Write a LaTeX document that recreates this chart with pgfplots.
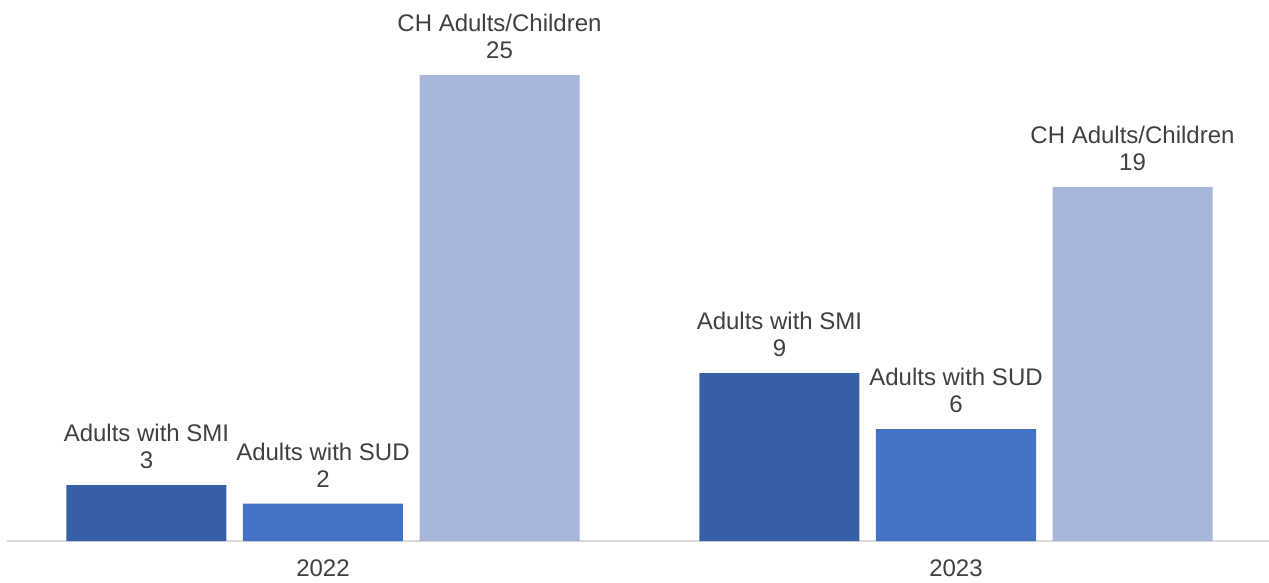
\documentclass[border=0pt]{standalone}
\usepackage{pgfplots}
\pgfplotsset{compat=1.18}
\usepackage{fontspec}
\setmainfont{Liberation Sans}
\definecolor{smi}{HTML}{365FA5}
\definecolor{sud}{HTML}{4472C4}
\definecolor{chc}{HTML}{A8B6DB}
\definecolor{txt}{HTML}{404040}
\definecolor{axl}{HTML}{D9D9D9}
\begin{document}
\begin{tikzpicture}
\path[use as bounding box] (0,0) rectangle (951.75pt,436.5pt);
\begin{axis}[
  at={(5.25pt,30.75pt)}, anchor=south west,
  scale only axis, width=946.5pt, height=405.75pt,
  xmin=-0.4992, xmax=1.4945, ymin=0, ymax=29.024,
  ybar=12.4pt, bar width=120pt,
  axis x line*=bottom, hide y axis,
  x axis line style={draw=axl, line width=1.1pt, -},
  xtick={0,1}, xticklabels={2022,2023},
  major tick length=0pt,
  xticklabel style={inner sep=0pt, yshift=-13.5pt, font=\fontsize{18pt}{20.25pt}\selectfont, text=txt},
  /pgf/number format/assume math mode=true,
  clip=false,
  nodes near coords style={anchor=south, inner sep=0pt, yshift=12pt, align=center, text=txt, font=\fontsize{18pt}{20.25pt}\selectfont},
]
\addplot[fill=smi, draw=none, nodes near coords={Adults with SMI\\\pgfmathprintnumber{\pgfplotspointmeta}}] coordinates {(0,3) (1,9)};
\addplot[fill=sud, draw=none, nodes near coords={Adults with SUD\\\pgfmathprintnumber{\pgfplotspointmeta}}] coordinates {(0,2) (1,6)};
\addplot[fill=chc, draw=none, nodes near coords={CH Adults/Children\\\pgfmathprintnumber{\pgfplotspointmeta}}] coordinates {(0,25) (1,19)};
\end{axis}
\end{tikzpicture}
\end{document}
